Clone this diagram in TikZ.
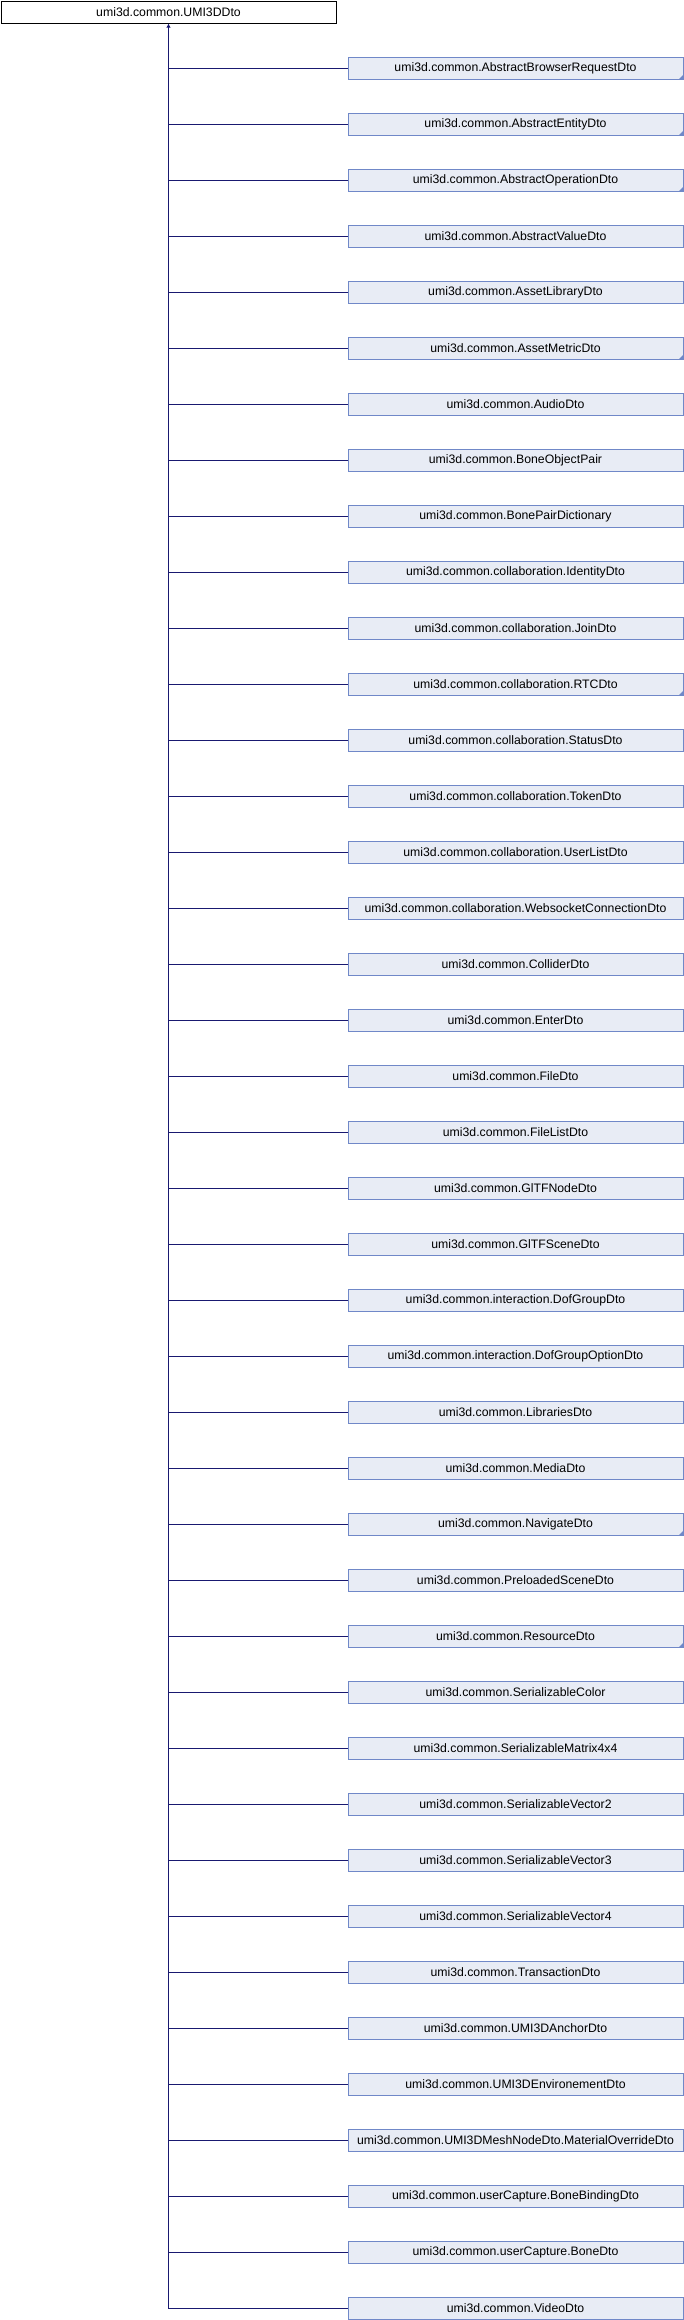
\documentclass[tikz,border=0pt]{standalone}
\usepackage{fontspec}
\setmainfont{Liberation Sans}
\usepackage{xcolor}
\usetikzlibrary{arrows.meta, positioning}
\definecolor{EdgeBlue}{HTML}{191970}
\definecolor{BoxFill}{HTML}{E8ECF5}
\definecolor{BoxLine}{HTML}{7088C8}

\begin{document}
\begin{tikzpicture}[x=0.75pt, y=-0.75pt,
  basebox/.style={line width=0.75pt, minimum width=251.25pt, minimum height=16.5pt,
    inner sep=0pt, anchor=north west, font=\fontsize{9.2}{11}\selectfont},
  rootbox/.style={basebox, draw=black, fill=white},
  childbox/.style={basebox, draw=BoxLine, fill=BoxFill},
  inherit/.style={draw=EdgeBlue, line width=0.75pt}]
  \useasboundingbox (0,0) rectangle (684,2320);

  % base class
  \node[rootbox] (base) at (0.5,0.5) {umi3d.common.UMI3DDto};

  % derived classes
  \foreach \cls [count=\k from 0] in {AbstractBrowserRequestDto, AbstractEntityDto,
      AbstractOperationDto, AbstractValueDto, AssetLibraryDto, AssetMetricDto,
      AudioDto, BoneObjectPair, BonePairDictionary, collaboration.IdentityDto,
      collaboration.JoinDto, collaboration.RTCDto, collaboration.StatusDto,
      collaboration.TokenDto, collaboration.UserListDto,
      collaboration.WebsocketConnectionDto, ColliderDto, EnterDto, FileDto,
      FileListDto, GlTFNodeDto, GlTFSceneDto, interaction.DofGroupDto,
      interaction.DofGroupOptionDto, LibrariesDto, MediaDto, NavigateDto,
      PreloadedSceneDto, ResourceDto, SerializableColor, SerializableMatrix4x4,
      SerializableVector2, SerializableVector3, SerializableVector4,
      TransactionDto, UMI3DAnchorDto, UMI3DEnvironementDto,
      UMI3DMeshNodeDto.MaterialOverrideDto, userCapture.BoneBindingDto,
      userCapture.BoneDto, VideoDto}
    \node[childbox] (c\k) at (347.5,{56.5+56*\k}) {umi3d.common.\cls};

  % truncated marks
  \foreach \k in {0,1,2,5,11,26,28}
    \fill[BoxLine] (c\k.south east) -- ++(0,-5) -- ++(-5,5) -- cycle;

  % inheritance
  \draw[inherit, -{Latex[length=3pt, width=3.3pt]}] (c40.west) -| (base.south);
  \foreach \k in {0,...,39}
    \draw[inherit] (c\k.west) -- (c\k.west -| base.south);
\end{tikzpicture}
\end{document}
